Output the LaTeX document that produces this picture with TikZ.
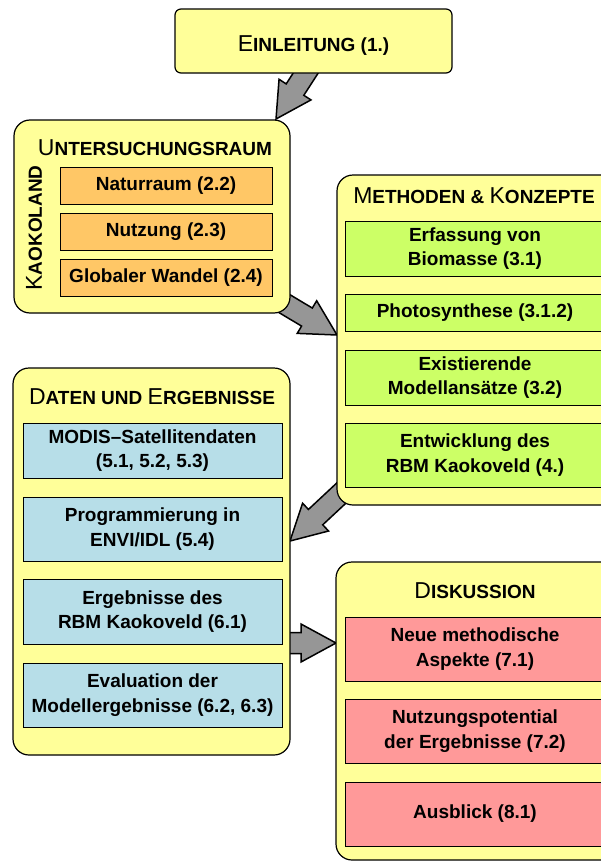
\documentclass[tikz,border=0pt]{standalone}
\usepackage{fontspec}
\setmainfont{Liberation Sans}
\usetikzlibrary{calc,backgrounds}

\definecolor{boxyellow}{HTML}{FFFF99}
\definecolor{boxorange}{HTML}{FFC766}
\definecolor{boxgreen}{HTML}{CCFF66}
\definecolor{boxblue}{HTML}{B7DEE8}
\definecolor{boxred}{HTML}{FF9999}
\definecolor{arrowgray}{HTML}{969696}

\newcommand\bodytext{\fontsize{19}{24.5}\selectfont\bfseries}
\newcommand\hbig[1]{{\fontsize{23}{24}\selectfont\mdseries #1}}
\newcommand\hsmall[1]{{\fontsize{19}{24}\selectfont\bfseries #1}}
% block arrow from #1 to #2 (tip)
\newcommand\blockarrow[2]{%
  \coordinate (hb) at ($(#2)!35pt!(#1)$);
  \draw[blockarr] ($(#1)!10.5pt!90:(#2)$) -- ($(hb)!10.5pt!-90:(#1)$)
    -- ($(hb)!19pt!-90:(#1)$) -- (#2) -- ($(hb)!19pt!90:(#1)$)
    -- ($(hb)!10.5pt!90:(#1)$) -- ($(#1)!10.5pt!-90:(#2)$) -- cycle;}

\begin{document}
\begin{tikzpicture}[x=1pt,y=-1pt,
  panel/.style={draw,fill=boxyellow,line width=1.2pt,rounded corners=16pt,inner sep=0pt,outer sep=0pt},
  headline/.style={inner sep=0pt,anchor=base},
  inbox/.style={draw,line width=0.9pt,inner sep=0pt,outer sep=0pt,align=center,font=\bodytext},
  orangebox/.style={inbox,fill=boxorange,minimum width=212pt,minimum height=37pt},
  greenbox/.style={inbox,fill=boxgreen,minimum width=260pt},
  bluebox/.style={inbox,fill=boxblue,minimum width=259pt},
  redbox/.style={inbox,fill=boxred,minimum width=260pt,minimum height=64pt},
  blockarr/.style={fill=arrowgray,draw=black,line width=1.5pt,line join=miter}]
  \useasboundingbox (0,0) rectangle (601,862);
  \clip (0,0) rectangle (601,862);

  % Einleitung
  \node (einl) [panel,rounded corners=6pt,minimum width=277pt,minimum height=64pt] at (313.5,41) {};
  \node (einlh) [headline] at (313.5,51) {\hbig{E}\hsmall{INLEITUNG (1.)}};

  % Untersuchungsraum
  \node (unters) [panel,minimum width=276pt,minimum height=193pt] at (152,216.5) {};
  \node (untersh) [headline] at (155,155) {\hbig{U}\hsmall{NTERSUCHUNGSRAUM}};
  \node (kaoko) [rotate=90,inner sep=0pt] at (34,228) {\hbig{K}\hsmall{AOKOLAND}};
  \node (natur) [orangebox] at (166,185.5) {Naturraum (2.2)};
  \node (nutz) [orangebox] at (166,231.5) {Nutzung (2.3)};
  \node (wandel) [orangebox] at (166,277.5) {Globaler Wandel (2.4)};

  % Methoden & Konzepte
  \node (meth) [panel,minimum width=283pt,minimum height=330pt] at (478.5,340) {};
  \node (methh) [headline] at (474,203) {\hbig{M}\hsmall{ETHODEN \& }\hbig{K}\hsmall{ONZEPTE}};
  \node (erfass) [greenbox,minimum height=55pt] at (475,248.5) {Erfassung von\\Biomasse (3.1)};
  \node (photo) [greenbox,minimum height=37pt] at (475,312.5) {Photosynthese (3.1.2)};
  \node (exist) [greenbox,minimum height=55pt] at (475,377.5) {Existierende\\Modellansätze (3.2)};
  \node (entw) [greenbox,minimum height=64pt] at (475,455) {Entwicklung des\\RBM Kaokoveld (4.)};

  % Daten und Ergebnisse
  \node (daten) [panel,minimum width=277pt,minimum height=387pt] at (151.5,561.5) {};
  \node (datenh) [headline] at (152,404) {\hbig{D}\hsmall{ATEN UND }\hbig{E}\hsmall{RGEBNISSE}};
  \node (modis) [bluebox,minimum height=55pt] at (152.5,450.5) {MODIS–Satellitendaten\\(5.1, 5.2, 5.3)};
  \node (prog) [bluebox,minimum height=64pt] at (152.5,529) {Programmierung in\\ENVI/IDL (5.4)};
  \node (ergeb) [bluebox,minimum height=65pt] at (152.5,611.5) {Ergebnisse des\\RBM Kaokoveld (6.1)};
  \node (evalu) [bluebox,minimum height=64pt] at (152.5,695) {Evaluation der\\Modellergebnisse (6.2, 6.3)};

  % Diskussion
  \node (disk) [panel,minimum width=284pt,minimum height=298pt] at (478,711) {};
  \node (diskh) [headline] at (475,598) {\hbig{D}\hsmall{ISKUSSION}};
  \node (neue) [redbox] at (475,649) {Neue methodische\\Aspekte (7.1)};
  \node (poten) [redbox] at (475,731) {Nutzungspotential\\der Ergebnisse (7.2)};
  \node (ausbl) [redbox] at (475,814) {Ausblick (8.1)};

  % arrows between the panels
  \coordinate (s1) at ($(einl.south)+(0,-12)$);
  \coordinate (t1) at ($(unters.north east)+(-14,-1)$);
  \coordinate (s2) at ($(unters.south east)+(-15,-15)$);
  \coordinate (t2) at ($(meth.west)+(0,-5)$);
  \coordinate (s3) at ($(meth.south west)+(13,-20)$);
  \coordinate (t3) at ($(daten.north east)+(0,173)$);
  \coordinate (s4) at ($(daten.east)+(-10,81.5)$);
  \coordinate (t4) at ($(disk.north west)+(0,81)$);
  \begin{scope}[on background layer]
    \blockarrow{s1}{t1}
    \blockarrow{s2}{t2}
    \blockarrow{s3}{t3}
    \blockarrow{s4}{t4}
  \end{scope}
\end{tikzpicture}
\end{document}
